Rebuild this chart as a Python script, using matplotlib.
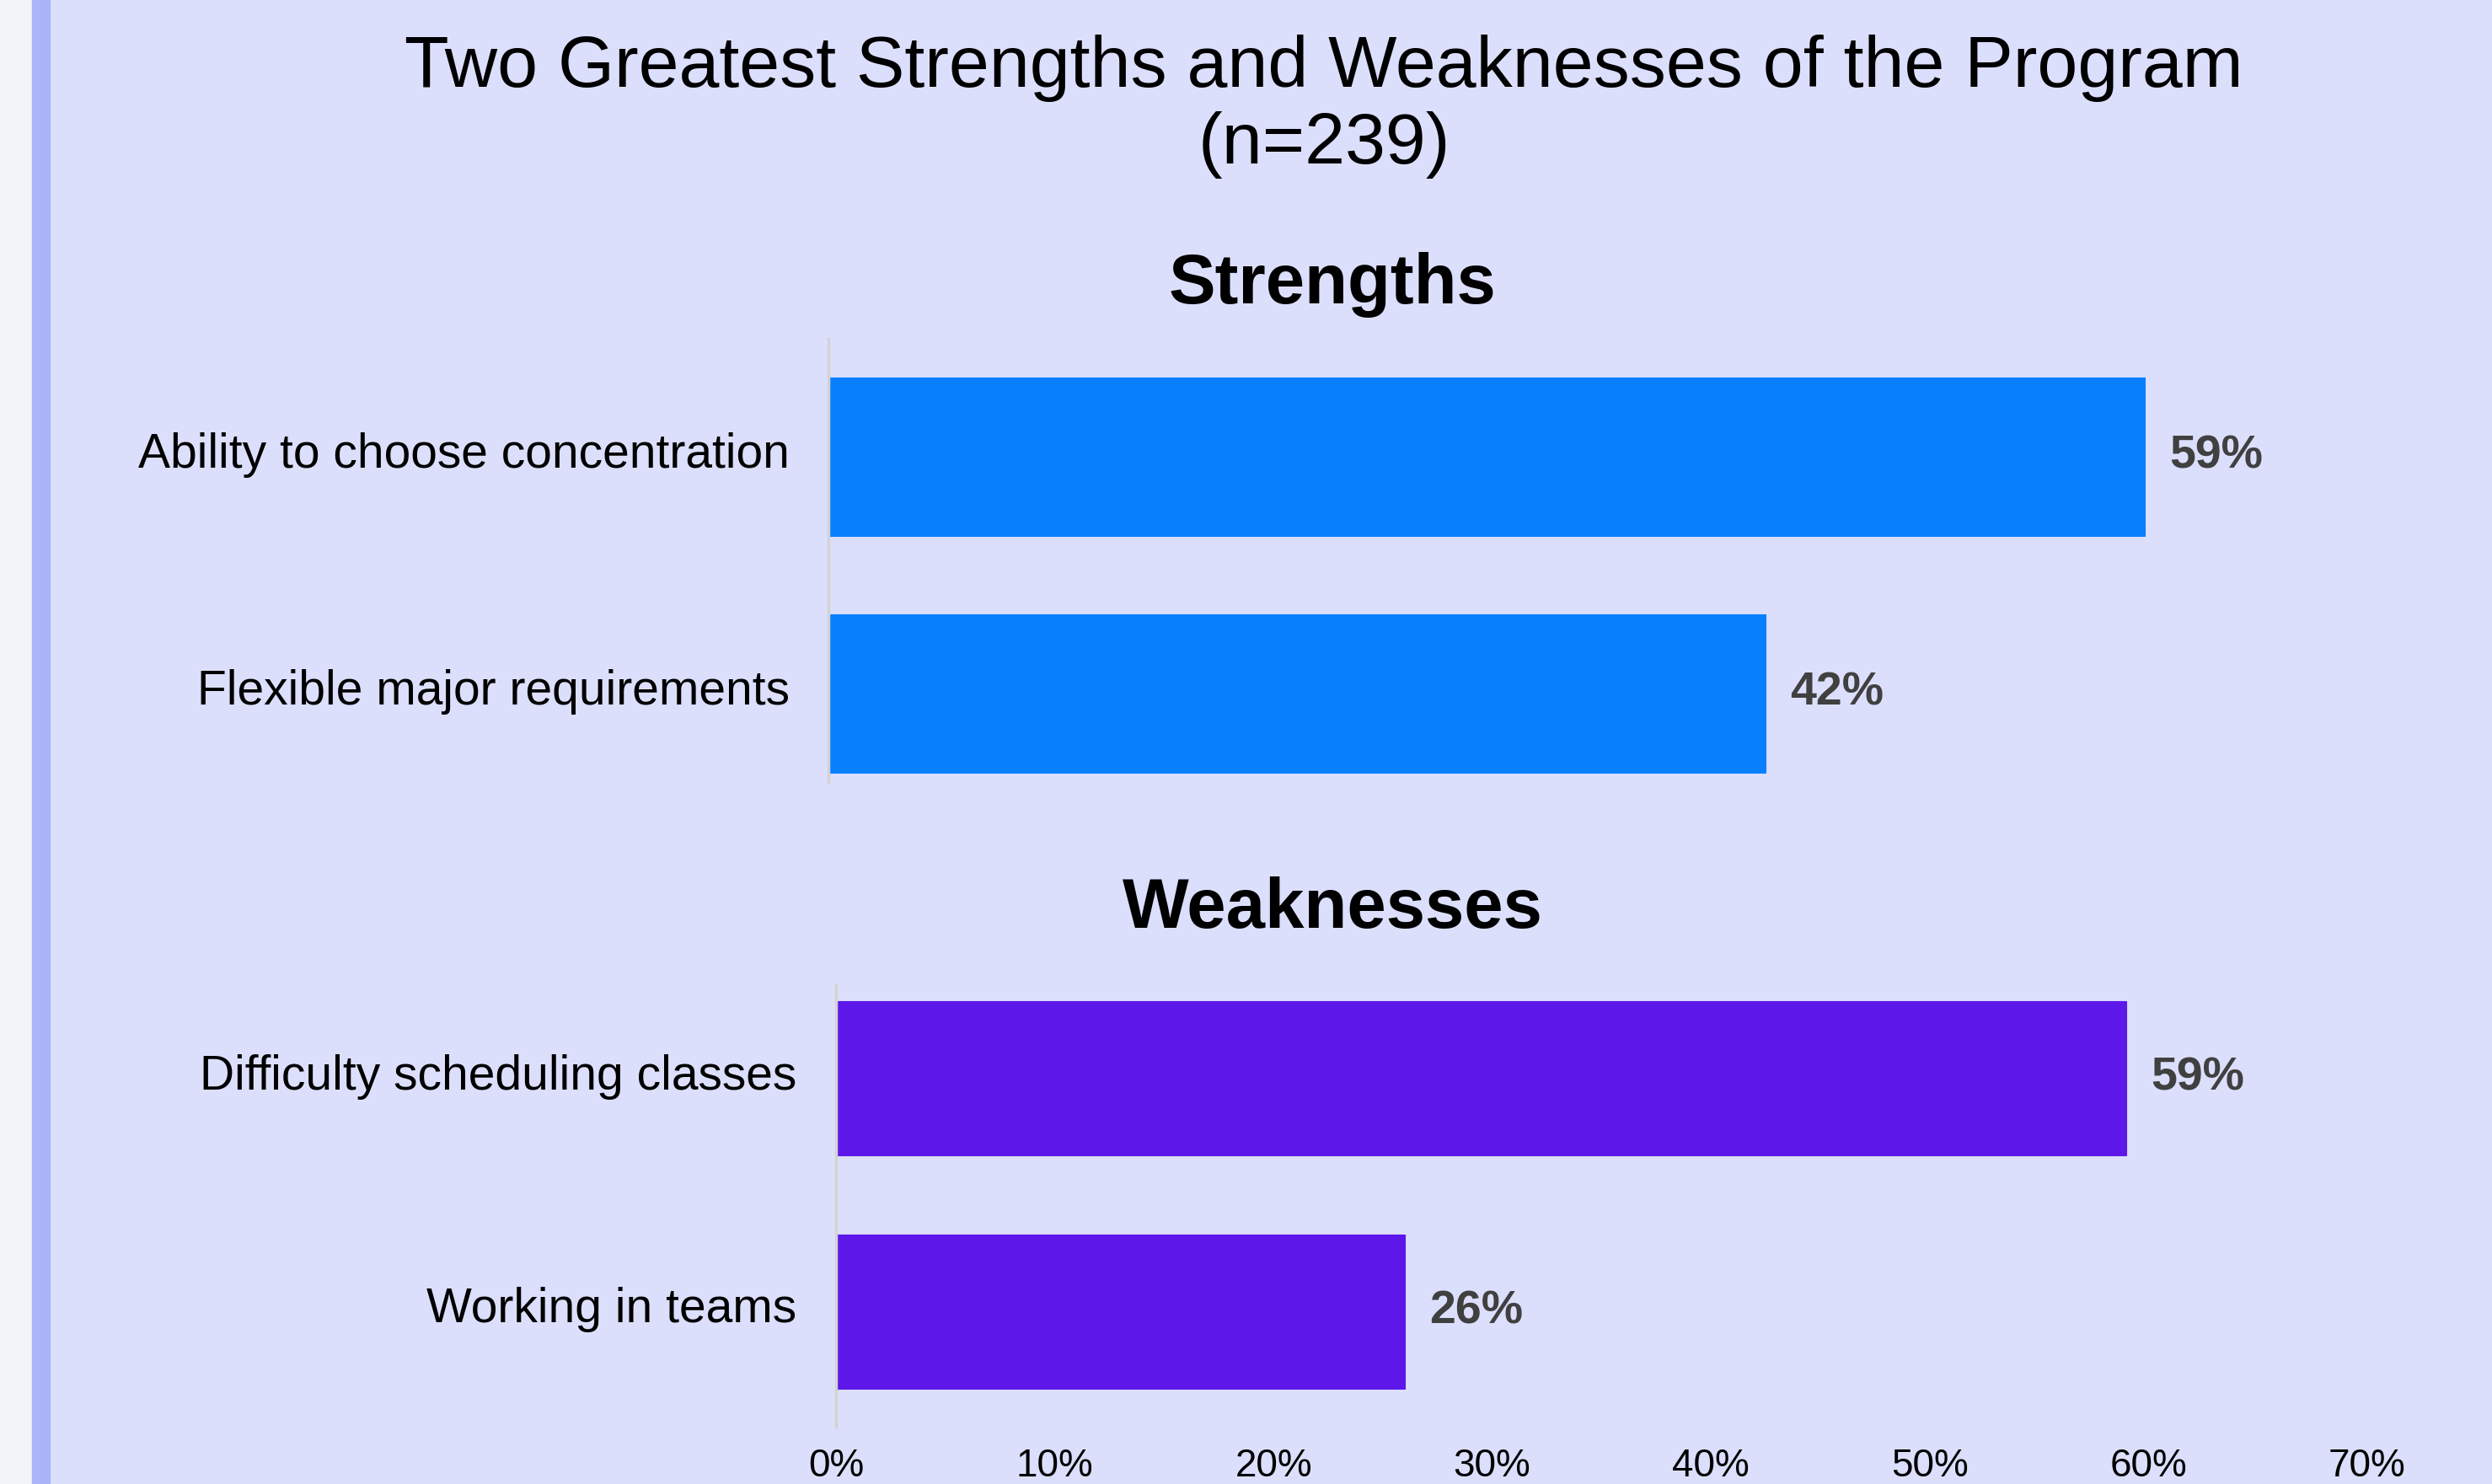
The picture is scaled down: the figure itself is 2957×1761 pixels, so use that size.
import matplotlib.pyplot as plt
from matplotlib.patches import Rectangle
from matplotlib.transforms import ScaledTranslation

# data
strength_labels = ['Ability to choose concentration', 'Flexible major requirements']
strength_vals = [59, 42]
weak_labels = ['Difficulty scheduling classes', 'Working in teams']
weak_vals = [59, 26]
ticks = [0, 10, 20, 30, 40, 50, 60, 70]
tick_labels = ['0%', '10%', '20%', '30%', '40%', '50%', '60%', '70%']

bg = '#dcdffc'
plt.rcParams['font.family'] = ['Liberation Sans', 'DejaVu Sans']

fig = plt.figure(figsize=(29.57, 17.61), dpi=100, facecolor=bg)

# left page edge and blue stripe
fig.patches.append(Rectangle((0, 0), 0.0129, 1, transform=fig.transFigure, color='#f2f3f8', zorder=0))
fig.patches.append(Rectangle((0.0129, 0), 0.0071, 1, transform=fig.transFigure, color='#a9b5f8', zorder=0))

fig.text(0.5313, 0.9542, 'Two Greatest Strengths and Weaknesses of the Program',
         ha='center', va='center', fontsize=62, color='black')
fig.text(0.5313, 0.9025, '(n=239)', ha='center', va='center', fontsize=62, color='black')
fig.text(0.5347, 0.8080, 'Strengths', ha='center', va='center', fontsize=60, fontweight='bold')
fig.text(0.5347, 0.3870, 'Weaknesses', ha='center', va='center', fontsize=60, fontweight='bold')

shift_up = ScaledTranslation(0, 6 / 72, fig.dpi_scale_trans)


def panel(rect, labels, vals, color, ylim, height, lpad, voff, show_x):
    ax = fig.add_axes(rect)
    ax.set_facecolor('none')
    y = list(range(len(vals)))
    ax.barh(y, vals, height=height, color=color, edgecolor=color, linewidth=0.8)
    ax.set_xlim(0, 70)
    ax.set_ylim(ylim)
    ax.set_yticks(y)
    ax.set_yticklabels(labels, fontsize=41)
    ax.tick_params(axis='y', length=0, pad=lpad)
    for lab in ax.get_yticklabels():
        lab.set_transform(lab.get_transform() + shift_up)
    for s in ['top', 'right', 'bottom']:
        ax.spines[s].set_visible(False)
    ax.spines['left'].set_color('#d3d3d3')
    ax.spines['left'].set_linewidth(2.5)
    for yi, v in zip(y, vals):
        ax.annotate(f'{v}%', (v, yi), xytext=(voff, 0), textcoords='offset points',
                    ha='left', va='center', fontsize=40, fontweight='bold', color='#404040')
    if show_x:
        ax.set_xticks(ticks)
        ax.set_xticklabels(tick_labels, fontsize=33)
        ax.tick_params(axis='x', length=0, pad=18)
    else:
        ax.set_xticks([])
    return ax


panel([0.3324, 0.4730, 0.6266, 0.2987], strength_labels, strength_vals, '#0880fe',
      (1.374, -0.498), 0.67, 33, 21, False)
panel([0.3355, 0.0386, 0.6143, 0.2976], weak_labels, weak_vals, '#5d17e9',
      (1.496, -0.402), 0.663, 34, 21, True)

fig.savefig('out.png', dpi=100, facecolor=bg)
